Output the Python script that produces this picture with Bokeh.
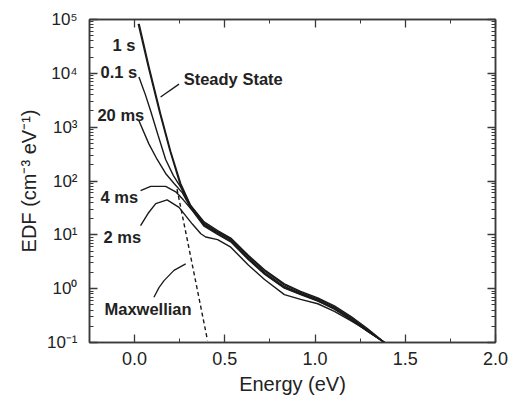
from bokeh.plotting import figure
from bokeh.models import (LogAxis, LinearAxis, CustomJSTickFormatter, FixedTicker,
                          SingleIntervalTicker, Range1d, PrintfTickFormatter)
from bokeh.core.properties import value
from bokeh.embed import file_html
from bokeh.resources import INLINE

# ---- data (y values given as log10(EDF)) ----
ss_x   = [0.025, 0.08, 0.144, 0.20, 0.256, 0.31, 0.385, 0.46, 0.533, 0.63, 0.72, 0.83, 0.92, 1.015, 1.107, 1.2, 1.29, 1.385]
ss_lg  = [4.92, 4.12, 3.25, 2.55, 1.95, 1.55, 1.24, 1.08, 0.94, 0.62, 0.35, 0.09, -0.05, -0.17, -0.32, -0.52, -0.74, -1.0]

s1_x   = [0.02, 0.075, 0.138, 0.195, 0.25, 0.31, 0.385, 0.46, 0.533, 0.63, 0.72, 0.83, 0.92, 1.015, 1.107, 1.2, 1.29, 1.385]
s1_lg  = [4.92, 4.13, 3.28, 2.57, 1.96, 1.54, 1.22, 1.06, 0.92, 0.60, 0.33, 0.07, -0.07, -0.19, -0.34, -0.54, -0.76, -1.0]

s01_x  = [0.024, 0.06, 0.089, 0.13, 0.172, 0.215, 0.256, 0.31, 0.385, 0.46, 0.533, 0.63, 0.72, 0.83, 0.92, 1.015, 1.107, 1.2, 1.29, 1.385]
s01_lg = [3.93, 3.6, 3.3, 2.85, 2.4, 2.1, 1.88, 1.52, 1.20, 1.04, 0.90, 0.57, 0.30, 0.04, -0.09, -0.21, -0.36, -0.56, -0.78, -1.0]

m20_x  = [0.024, 0.079, 0.125, 0.172, 0.22, 0.265, 0.31, 0.385, 0.46, 0.533, 0.63, 0.72, 0.83, 0.92, 1.015, 1.107, 1.2, 1.29, 1.385]
m20_lg = [3.12, 2.69, 2.4, 2.14, 1.95, 1.78, 1.50, 1.18, 1.02, 0.88, 0.55, 0.28, 0.02, -0.10, -0.22, -0.37, -0.57, -0.79, -1.0]

m4_x   = [0.033, 0.089, 0.172, 0.228, 0.27, 0.32, 0.385, 0.46, 0.533, 0.63, 0.72, 0.83, 0.92, 1.015, 1.107, 1.2, 1.29, 1.385]
m4_lg  = [1.82, 1.90, 1.90, 1.80, 1.65, 1.45, 1.16, 1.01, 0.87, 0.54, 0.27, 0.01, -0.11, -0.23, -0.38, -0.58, -0.79, -1.0]

m2_x   = [0.033, 0.075, 0.117, 0.18, 0.246, 0.32, 0.367, 0.394, 0.46, 0.533, 0.63, 0.72, 0.83, 0.92, 1.015, 1.107, 1.2, 1.29, 1.385]
m2_lg  = [1.17, 1.40, 1.58, 1.65, 1.51, 1.20, 1.02, 0.96, 0.91, 0.77, 0.44, 0.17, -0.11, -0.20, -0.28, -0.42, -0.60, -0.78, -1.0]

mx_x   = [0.235, 0.293, 0.35, 0.404]
mx_lg  = [1.85, 0.89, -0.06, -0.96]

# annotation leaders
lead_ss_x = [0.144, 0.246]
lead_ss_lg = [3.56, 3.80]
lead_mx_x = [0.107, 0.135, 0.163, 0.218, 0.283]
lead_mx_lg = [-0.16, 0.02, 0.15, 0.34, 0.46]

labels      = ["1 s", "0.1 s", "20 ms", "4 ms", "2 ms", "Maxwellian", "Steady State"]
labels_x    = [-0.122, -0.189, -0.206, -0.189, -0.172, -0.167, 0.272]
labels_lg   = [4.52, 4.02, 3.22, 1.70, 0.96, -0.37, 3.90]

x_major = [0.0, 0.5, 1.0, 1.5, 2.0]
y_major = [1e-1, 1e0, 1e1, 1e2, 1e3, 1e4, 1e5]

def tolin(lg):
    return [10 ** v for v in lg]

INK = "#1a1a1a"
AX = "#3a3a3a"

p = figure(width=509, height=401, y_axis_type="log",
           x_range=Range1d(-0.25, 2.0), y_range=Range1d(1e-1, 1e5),
           output_backend="svg", toolbar_location=None,
           min_border_left=89, min_border_right=14, min_border_top=19, min_border_bottom=59)
p.background_fill_color = "white"
p.border_fill_color = "white"
p.grid.visible = False
p.outline_line_color = AX
p.outline_line_width = 1.5

for xs, lg in [(ss_x, ss_lg), (s1_x, s1_lg), (s01_x, s01_lg), (m20_x, m20_lg), (m4_x, m4_lg), (m2_x, m2_lg)]:
    p.line(xs, tolin(lg), line_color=INK, line_width=1.4)

p.line(mx_x, tolin(mx_lg), line_color=INK, line_width=1.4, line_dash="4 3")
p.line(lead_ss_x, tolin(lead_ss_lg), line_color=INK, line_width=1.3)
p.line(lead_mx_x, tolin(lead_mx_lg), line_color=INK, line_width=1.3)

p.text(labels_x, tolin(labels_lg), text=labels, text_font=value("Liberation Sans"),
       text_font_style="bold", text_font_size="16.5px", text_color="#222222",
       text_baseline="middle", text_align="left")

sup = CustomJSTickFormatter(code="""
const m = {'-':'\u207b','0':'\u2070','1':'\u00b9','2':'\u00b2','3':'\u00b3','4':'\u2074','5':'\u2075','6':'\u2076','7':'\u2077','8':'\u2078','9':'\u2079'};
const e = String(Math.round(Math.log10(tick)));
let s = '';
for (const c of e) s += m[c];
return '10' + s;
""")

yminor = [m * 10.0 ** e for e in range(-1, 5) for m in range(2, 10)]

xax = p.xaxis[0]
xax.ticker = SingleIntervalTicker(interval=0.5, num_minor_ticks=2)
xax.formatter = PrintfTickFormatter(format="%.1f")
yax = p.yaxis[0]
yax.ticker = FixedTicker(ticks=y_major, minor_ticks=yminor)
yax.formatter = sup

for ax in (xax, yax):
    ax.axis_line_color = AX
    ax.axis_line_width = 1.5
    ax.major_tick_line_color = AX
    ax.minor_tick_line_color = AX
    ax.major_tick_line_width = 1.3
    ax.minor_tick_line_width = 1.0
    ax.major_tick_in = 8
    ax.major_tick_out = 0
    ax.minor_tick_in = 4
    ax.minor_tick_out = 0
    ax.major_label_text_font = "Liberation Sans"
    ax.major_label_text_color = "#222222"
    ax.axis_label_text_font = "Liberation Sans"
    ax.axis_label_text_font_style = "normal"
    ax.axis_label_text_color = "#222222"

xax.major_label_text_font_size = "18px"
xax.major_label_standoff = 9
xax.axis_label = "Energy (eV)"
xax.axis_label_text_font_size = "20px"
xax.axis_label_standoff = 5

yax.major_label_text_font_size = "17px"
yax.major_label_standoff = 12
yax.axis_label = "EDF (cm\u207b\u00b3 eV\u207b\u00b9)"
yax.axis_label_text_font_size = "20px"
yax.axis_label_standoff = 4

blank = CustomJSTickFormatter(code="return '';")
top = LinearAxis(ticker=SingleIntervalTicker(interval=0.5, num_minor_ticks=2), formatter=blank)
right = LogAxis(ticker=FixedTicker(ticks=y_major, minor_ticks=yminor), formatter=blank)
for ax in (top, right):
    ax.axis_line_color = AX
    ax.axis_line_width = 1.5
    ax.major_tick_line_color = AX
    ax.minor_tick_line_color = AX
    ax.major_tick_line_width = 1.3
    ax.minor_tick_in = 4
    ax.minor_tick_out = 0
    ax.major_tick_in = 8
    ax.major_tick_out = 0
    ax.major_label_standoff = 0
    ax.major_label_text_font_size = "1px"
p.add_layout(top, "above")
p.add_layout(right, "right")

open("out.html", "w").write(file_html(p, INLINE))
